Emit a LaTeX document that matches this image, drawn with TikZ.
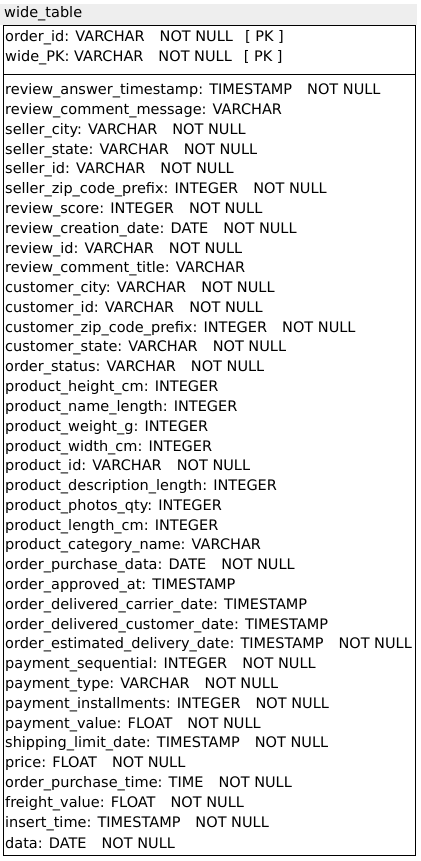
\documentclass[tikz,border=0pt]{standalone}
\usepackage{fontspec}
\setmainfont{DejaVu Sans}
\definecolor{hdrgray}{HTML}{EEEEEE}
\newcommand{\gapp}{\hspace{15pt}}
\newcommand{\gappk}{\hspace{12pt}}
\begin{document}
\begin{tikzpicture}[x=1pt,y=-1pt,
  rowtext/.style={anchor=west,inner sep=0pt,font=\fontsize{14.5}{16}\selectfont},
  tbox/.style={draw=black,line width=1pt}]
\useasboundingbox (0,0) rectangle (420,861);
\fill[hdrgray] (0,4) rectangle (417,25);
\node[rowtext] (title) at (4,14) {wide\_table};
\draw[tbox] (3,25.5) rectangle (415,855);
\draw[tbox] (3,75) -- (415,75);
\node[rowtext] (pk1) at (5,38) {order\_id: VARCHAR\gapp NOT NULL\gappk[ PK ]};
\node[rowtext] (pk2) at (5,58) {wide\_PK: VARCHAR\gapp NOT NULL\gappk[ PK ]};
\foreach \t [count=\i from 0] in {
review\_answer\_timestamp: TIMESTAMP\gapp NOT NULL,
review\_comment\_message: VARCHAR,
seller\_city: VARCHAR\gapp NOT NULL,
seller\_state: VARCHAR\gapp NOT NULL,
seller\_id: VARCHAR\gapp NOT NULL,
seller\_zip\_code\_prefix: INTEGER\gapp NOT NULL,
review\_score: INTEGER\gapp NOT NULL,
review\_creation\_date: DATE\gapp NOT NULL,
review\_id: VARCHAR\gapp NOT NULL,
review\_comment\_title: VARCHAR,
customer\_city: VARCHAR\gapp NOT NULL,
customer\_id: VARCHAR\gapp NOT NULL,
customer\_zip\_code\_prefix: INTEGER\gapp NOT NULL,
customer\_state: VARCHAR\gapp NOT NULL,
order\_status: VARCHAR\gapp NOT NULL,
product\_height\_cm: INTEGER,
product\_name\_length: INTEGER,
product\_weight\_g: INTEGER,
product\_width\_cm: INTEGER,
product\_id: VARCHAR\gapp NOT NULL,
product\_description\_length: INTEGER,
product\_photos\_qty: INTEGER,
product\_length\_cm: INTEGER,
product\_category\_name: VARCHAR,
order\_purchase\_data: DATE\gapp NOT NULL,
order\_approved\_at: TIMESTAMP,
order\_delivered\_carrier\_date: TIMESTAMP,
order\_delivered\_customer\_date: TIMESTAMP,
order\_estimated\_delivery\_date: TIMESTAMP\gapp NOT NULL,
payment\_sequential: INTEGER\gapp NOT NULL,
payment\_type: VARCHAR\gapp NOT NULL,
payment\_installments: INTEGER\gapp NOT NULL,
payment\_value: FLOAT\gapp NOT NULL,
shipping\_limit\_date: TIMESTAMP\gapp NOT NULL,
price: FLOAT\gapp NOT NULL,
order\_purchase\_time: TIME\gapp NOT NULL,
freight\_value: FLOAT\gapp NOT NULL,
insert\_time: TIMESTAMP\gapp NOT NULL,
data: DATE\gapp NOT NULL}
{\node[rowtext] (row\i) at (5,{91+19.79*\i}) {\t};}
\end{tikzpicture}
\end{document}
